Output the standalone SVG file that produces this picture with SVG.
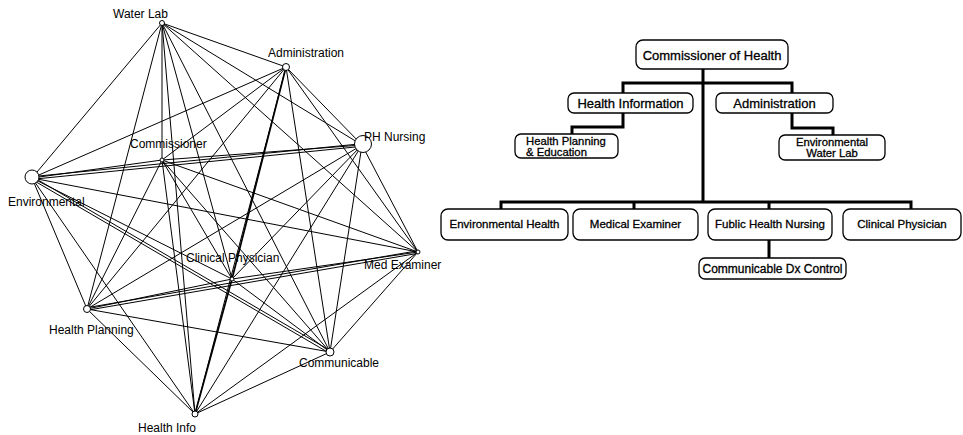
<svg xmlns="http://www.w3.org/2000/svg" width="963" height="435" viewBox="0 0 963 435">
<style>
.e{stroke:#000;stroke-width:1;fill:none}
.t{stroke:#000;stroke-width:1.7;fill:none}
.n{fill:#fff;stroke:#000;stroke-width:1}
.nl{font-family:"Liberation Sans",Arial,sans-serif;font-size:12px;fill:#000}
.b{fill:#fff;stroke:#000;stroke-width:1.3}
.c{stroke:#000;stroke-width:3;fill:none;stroke-linejoin:miter}
.ol{font-family:"Liberation Sans",Arial,sans-serif;fill:#000;stroke:#000;stroke-width:0.3}
</style>
<rect width="963" height="435" fill="#fff"/>
<g id="connectors">
<path class="e" d="M162,23L286,67M162,23L362,145M162,23L162,160M162,23L32,178M162,23L232,279M162,23L418,252M162,23L87,309M162,23L330,352M162,23L195,414"/>
<path class="e" d="M286,67L362,145M286,67L162,160M286,67L32,178M286,67L418,252M286,67L87,309M286,67L330,352M286,67L195,414"/>
<path class="t" d="M286,67L232,279M232,279L195,414"/>
<path class="e" d="M362,145L162,160M362,145L232,279M362,145L418,252M362,145L87,309M362,145L330,352M362,145L195,414"/>
<path class="e" d="M32.13,179.3L362.13,146.3M31.87,176.7L361.87,143.7"/>
<path class="e" d="M162,160L32,178M162,160L232,279M162,160L418,252M162,160L87,309M162,160L330,352M162,160L195,414"/>
<path class="e" d="M32,178L232,279M32,178L418,252M32,178L87,309M32,178L195,414"/>
<path class="e" d="M31.34,179.12L329.34,353.12M32.66,176.88L330.66,350.88"/>
<path class="e" d="M232,279L418,252M232,279L87,309M232,279L330,352"/>
<path class="e" d="M87.22,310.28L418.22,253.28M86.78,307.72L417.78,250.72"/>
<path class="e" d="M418,252L330,352M418,252L195,414M87,309L330,352M87,309L195,414M330,352L195,414"/>
</g>
<g id="n-waterlab"><circle class="n" cx="162" cy="23" r="2.5"/><text class="nl" x="113" y="18">Water Lab</text></g>
<g id="n-administration"><circle class="n" cx="286" cy="67" r="3.5"/><text class="nl" x="268" y="57">Administration</text></g>
<g id="n-phnursing"><circle class="n" cx="363" cy="144" r="8.5"/><text class="nl" x="364" y="141">PH Nursing</text></g>
<g id="n-commissioner"><circle class="n" cx="162" cy="160" r="2"/><text class="nl" x="130" y="148">Commissioner</text></g>
<g id="n-environmental"><circle class="n" cx="32" cy="177" r="7"/><text class="nl" x="8" y="206">Environmental</text></g>
<g id="n-clinical"><circle class="n" cx="232" cy="279" r="2"/><text class="nl" x="186" y="262">Clinical Physician</text></g>
<g id="n-medexaminer"><circle class="n" cx="418" cy="252" r="2"/><text class="nl" x="364" y="269">Med Examiner</text></g>
<g id="n-healthplanning"><circle class="n" cx="87" cy="309" r="3.5"/><text class="nl" x="49" y="334">Health Planning</text></g>
<g id="n-communicable"><circle class="n" cx="330" cy="352" r="4"/><text class="nl" x="299" y="367">Communicable</text></g>
<g id="n-healthinfo"><circle class="n" cx="195" cy="414" r="3"/><text class="nl" x="138" y="432">Health Info</text></g>
<g id="org-connectors">
<path class="c" d="M703,69V202M623,93V83H792V93M623,113V127H572V134M792,113V128H833V135M501,209V202H911V209M634,202V209M769,202V209M769,240V258"/>
</g>
<g id="o-commissioner"><rect class="b" x="636" y="40" width="152" height="29" rx="7"/><text class="ol" x="712" y="60" font-size="13" text-anchor="middle">Commissioner of Health</text></g>
<g id="o-healthinfo"><rect class="b" x="568" y="93" width="125" height="20" rx="6"/><text class="ol" x="630.5" y="108" font-size="13" text-anchor="middle">Health Information</text></g>
<g id="o-admin"><rect class="b" x="716" y="93" width="117" height="20" rx="6"/><text class="ol" x="774.5" y="108" font-size="13" text-anchor="middle">Administration</text></g>
<g id="o-hpe"><rect class="b" x="515" y="134" width="103" height="24" rx="6"/><text class="ol" font-size="11.3"><tspan x="526" y="144.5">Health Planning</tspan><tspan x="526" y="155.5">&amp; Education</tspan></text></g>
<g id="o-ewl"><rect class="b" x="779" y="135" width="106" height="25" rx="6"/><text class="ol" font-size="11.3" text-anchor="middle"><tspan x="832" y="145.5">Environmental</tspan><tspan x="832" y="157">Water Lab</tspan></text></g>
<g id="o-envhealth"><rect class="b" x="441" y="209" width="127" height="31" rx="7"/><text class="ol" x="504.5" y="228" font-size="11.5" text-anchor="middle">Environmental Health</text></g>
<g id="o-medexam"><rect class="b" x="573" y="209" width="125" height="31" rx="7"/><text class="ol" x="635.5" y="228" font-size="11.5" text-anchor="middle">Medical Examiner</text></g>
<g id="o-fhn"><rect class="b" x="708" y="209" width="124" height="31" rx="7"/><text class="ol" x="770" y="228" font-size="11.5" text-anchor="middle">Fublic Health Nursing</text></g>
<g id="o-clinical"><rect class="b" x="843" y="209" width="118" height="31" rx="7"/><text class="ol" x="902" y="228" font-size="11.5" text-anchor="middle">Clinical Physician</text></g>
<g id="o-cdc"><rect class="b" x="699" y="258" width="147" height="21" rx="6"/><text class="ol" x="772.5" y="273" font-size="12" text-anchor="middle">Communicable Dx Control</text></g>
</svg>
